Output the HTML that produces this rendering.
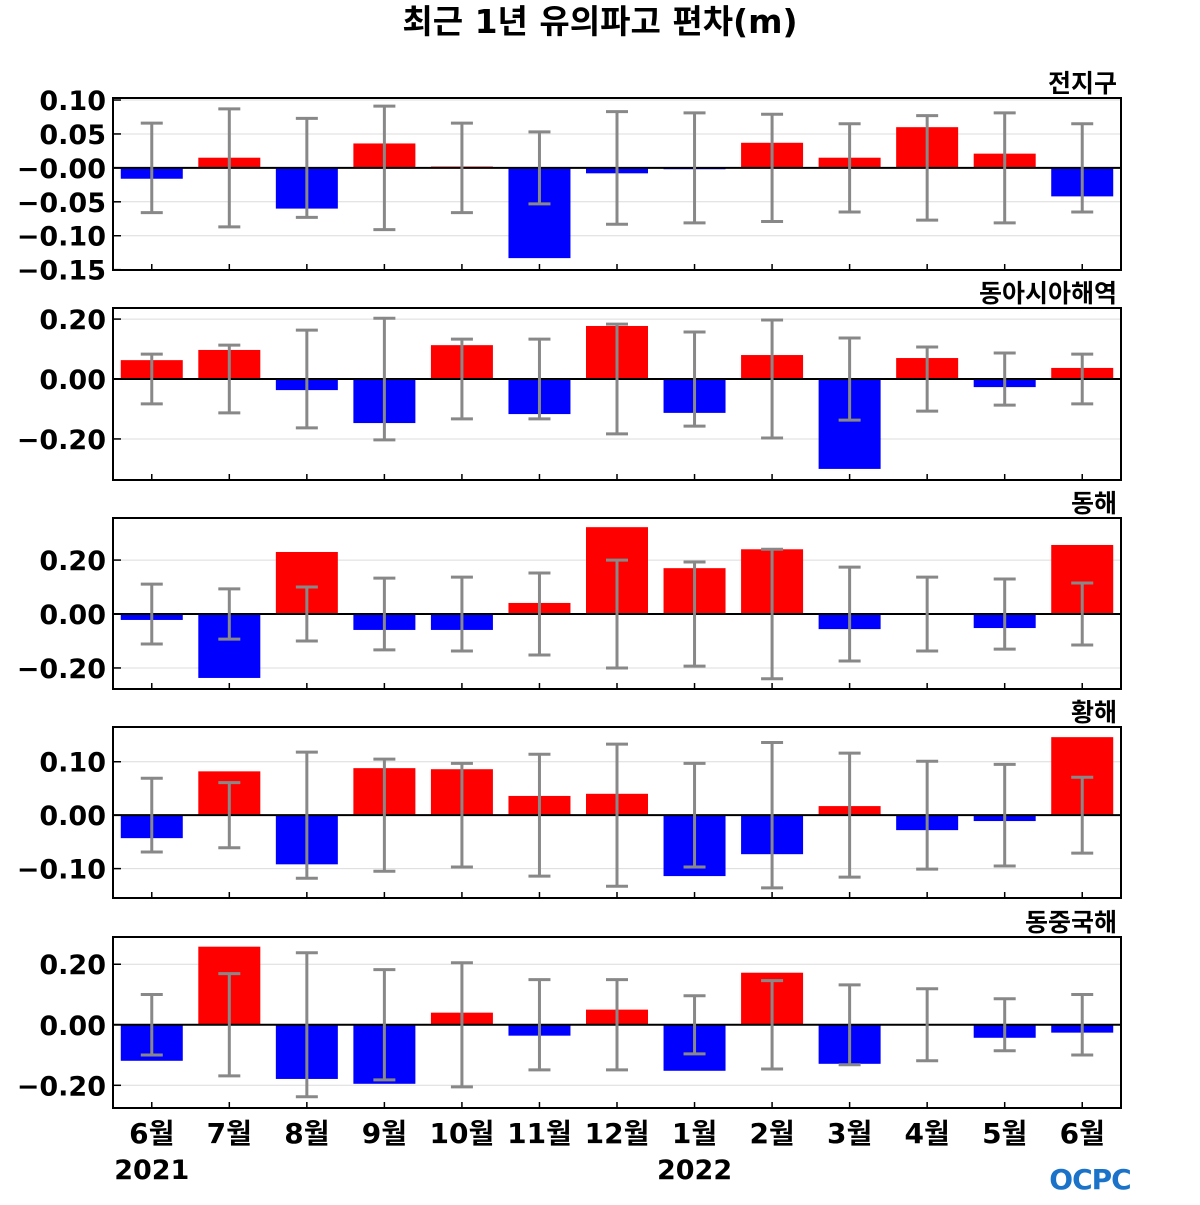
<!DOCTYPE html>
<html><head><meta charset="utf-8"><style>
body{margin:0;background:#fff;width:1200px;height:1200px;overflow:hidden}
svg text{font-family:"DejaVu Sans","Noto Sans CJK KR",sans-serif;font-weight:bold;fill:#000}
</style></head><body>
<svg id="chart" width="1200" height="1200" viewBox="0 0 1200 1200"></svg>
<script>
const months = ["6월","7월","8월","9월","10월","11월","12월","1월","2월","3월","4월","5월","6월"];
const regionNames = ["전지구","동아시아해역","동해","황해","동중국해"];
const valsGlobal = [-0.016,0.015,-0.06,0.036,0.002,-0.133,-0.008,-0.002,0.037,0.015,0.06,0.021,-0.042];
const errGlobal = [0.066,0.087,0.073,0.091,0.066,0.053,0.083,0.081,0.079,0.065,0.077,0.081,0.065];
const valsEastAsia = [0.063,0.097,-0.037,-0.147,0.113,-0.117,0.177,-0.113,0.08,-0.30,0.07,-0.027,0.037];
const errEastAsia = [0.083,0.113,0.163,0.203,0.133,0.133,0.183,0.157,0.197,0.137,0.107,0.087,0.083];
const valsEastSea = [-0.022,-0.237,0.23,-0.059,-0.059,0.041,0.322,0.17,0.24,-0.056,0,-0.052,0.256];
const errEastSea = [0.111,0.093,0.1,0.133,0.137,0.152,0.2,0.193,0.24,0.174,0.137,0.13,0.115];
const valsYellowSea = [-0.043,0.082,-0.092,0.088,0.086,0.036,0.04,-0.114,-0.073,0.017,-0.028,-0.011,0.146];
const errYellowSea = [0.069,0.061,0.118,0.105,0.097,0.114,0.133,0.097,0.136,0.116,0.101,0.095,0.071];
const valsECS = [-0.119,0.258,-0.179,-0.195,0.04,-0.036,0.05,-0.152,0.172,-0.129,0,-0.043,-0.026];
const errECS = [0.1,0.169,0.238,0.182,0.205,0.149,0.149,0.096,0.146,0.132,0.119,0.086,0.1];
const tickGlobal = [0.10,0.05,0.00,-0.05,-0.10,-0.15];
const tick20 = [0.20,0.00,-0.20];
const tick10 = [0.10,0.00,-0.10];

const panels = [
 {name:"global",vals:valsGlobal,errs:errGlobal,ticks:tickGlobal,y0:98,y1:270,vmax:0.103,vmin:-0.1505,dec:2,minusZero:true},
 {name:"east-asia",vals:valsEastAsia,errs:errEastAsia,ticks:tick20,y0:308,y1:480,vmax:0.237,vmin:-0.337,dec:2},
 {name:"east-sea",vals:valsEastSea,errs:errEastSea,ticks:tick20,y0:518,y1:689,vmax:0.356,vmin:-0.278,dec:2},
 {name:"yellow-sea",vals:valsYellowSea,errs:errYellowSea,ticks:tick10,y0:727,y1:898,vmax:0.165,vmin:-0.155,dec:2},
 {name:"east-china-sea",vals:valsECS,errs:errECS,ticks:tick20,y0:937,y1:1108,vmax:0.29,vmin:-0.275,dec:2}
];
const NS="http://www.w3.org/2000/svg";
const svg=document.getElementById('chart');
const X0=113,X1=1121;
function mk(tag,attrs,parent){const e=document.createElementNS(NS,tag);for(const k in attrs)e.setAttribute(k,attrs[k]);(parent||svg).appendChild(e);return e;}
const cw=(X1-X0)/months.length;
function xc(i){return X0+cw*(i+0.5);}

const title=mk('text',{x:600,y:33,'text-anchor':'middle','font-size':33});
title.textContent="최근 1년 유의파고 편차(m)";



panels.forEach((p,pi)=>{
  const g=mk('g',{});
  
  
  const ys=v=>p.y0+(p.vmax-v)/(p.vmax-p.vmin)*(p.y1-p.y0);
  p.ticks.forEach(t=>{
    const y=ys(t);
    if(Math.abs(t)>1e-9) mk('line',{x1:X0,x2:X1,y1:y,y2:y,stroke:'#dcdcdc','stroke-width':1},g);
    mk('line',{x1:X0,x2:X0+8,y1:y,y2:y,stroke:'#000','stroke-width':1.5},g);
    const tl=mk('text',{x:106,y:y+10,'text-anchor':'end','font-size':27},g);
    let s=Math.abs(t).toFixed(p.dec);
    if(t<-1e-9||(Math.abs(t)<1e-9&&p.minusZero)) s="\u2212"+s;
    tl.textContent=s;
    
    
  });
  const zy=ys(0);
  p.vals.forEach((v,i)=>{
    const x=xc(i),w=62;
    const yt=Math.min(ys(v),zy),h=Math.abs(ys(v)-zy);
    const b=mk('rect',{x:x-w/2,y:yt,width:w,height:Math.max(h,0.5),fill:v>=0?'#ff0000':'#0000ff'},g);
    
    
  });
  mk('line',{x1:X0,x2:X1,y1:zy,y2:zy,stroke:'#000','stroke-width':2},g);
  p.errs.forEach((e,i)=>{
    const x=xc(i),ya=ys(e),yb=ys(-e);
    const eg=mk('g',{stroke:'#888','stroke-width':3},g);
    
    
    mk('line',{x1:x,x2:x,y1:ya,y2:yb},eg);
    mk('line',{x1:x-11,x2:x+11,y1:ya,y2:ya},eg);
    mk('line',{x1:x-11,x2:x+11,y1:yb,y2:yb},eg);
  });
  months.forEach((m,i)=>{mk('line',{x1:xc(i),x2:xc(i),y1:p.y1,y2:p.y1-6,stroke:'#000','stroke-width':1.5},g);});
  mk('rect',{x:X0,y:p.y0,width:X1-X0,height:p.y1-p.y0,fill:'none',stroke:'#000','stroke-width':2},g);
  const lab=mk('text',{x:1117,y:p.y0-6,'text-anchor':'end','font-size':25},g);
  lab.textContent=regionNames[pi];
  
  
});
months.forEach((m,i)=>{
  const t=mk('text',{x:xc(i),y:1143,'text-anchor':'middle','font-size':28});
  t.textContent=m;
  
  
});
[["2021",0],["2022",7]].forEach(([y,i])=>{
  const t=mk('text',{x:xc(i),y:1179,'text-anchor':'middle','font-size':27});
  t.textContent=y;
  
  
});
const logo=mk('text',{x:1090,y:1189,'text-anchor':'middle','font-size':28,style:'fill:#1a73c8;font-family:"DejaVu Sans",sans-serif;font-weight:bold;letter-spacing:-1px'});
logo.textContent="OCPC";


</script>
</body></html>
